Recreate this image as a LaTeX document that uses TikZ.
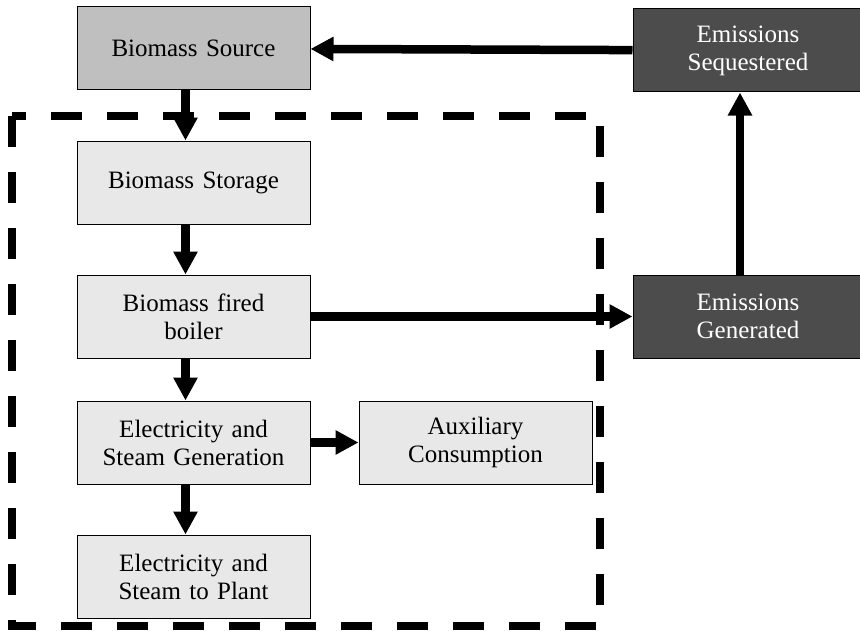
\documentclass[tikz,border=0pt]{standalone}
\usepackage{fontspec}
\setmainfont{Liberation Serif}
\usetikzlibrary{positioning,arrows.meta}

\begin{document}
\begin{tikzpicture}[x=1pt,y=-1pt,
	box/.style={rectangle,draw=black,line width=1pt,minimum width=233pt,minimum height=83pt,text width=225pt,align=center,inner sep=2pt,font=\fontsize{25}{28}\selectfont},
	litebox/.style={box,fill=black!9},
	srcbox/.style={box,fill=black!25},
	darkbox/.style={box,fill=black!70,text=white,minimum width=230pt,text width=222pt},
	arr/.style={line width=8.5pt,-{Triangle[length=23pt,width=23pt]}}]
		\useasboundingbox (0,0) rectangle (860,634);
		\node[srcbox]										(source)	at (193.5,48.5)	{Biomass Source};
		\node[litebox,node distance=50pt,below=of source]	(storage)	{Biomass Storage};
		\node[litebox,node distance=50pt,below=of storage]	(boiler)	{Biomass fired\\boiler};
		\node[litebox,node distance=42pt,below=of boiler]	(gen)		{Electricity and\\Steam Generation};
		\node[litebox,node distance=50pt,below=of gen]		(plant)		{Electricity and\\Steam to Plant};
		\node[litebox,node distance=48pt,right=of gen]		(aux)		{Auxiliary\\Consumption};
		\node[darkbox,node distance=322pt,right=of boiler]	(emgen)		{Emissions\\Generated};
		\node[darkbox,node distance=182pt,above=of emgen]	(emseq)		{Emissions\\Sequestered};

		\draw[line width=8pt,dash pattern=on 31pt off 25pt] (11.5,115.5) rectangle (600,626);

		\draw[arr] ([xshift=-8pt]source.south) -- ([xshift=-8pt]storage.north);
		\draw[arr] ([xshift=-8pt]storage.south) -- ([xshift=-8pt]boiler.north);
		\draw[arr] ([xshift=-8pt]boiler.south) -- ([xshift=-8pt]gen.north);
		\draw[arr] ([xshift=-8pt]gen.south) -- ([xshift=-8pt]plant.north);
		\draw[arr] (gen) -- (aux);
		\draw[arr] (boiler) -- (emgen);
		\draw[arr] ([xshift=-8pt]emgen.north) -- ([xshift=-8pt]emseq.south);
		\draw[arr] (emseq) -- (source);
	\end{tikzpicture}
\end{document}
